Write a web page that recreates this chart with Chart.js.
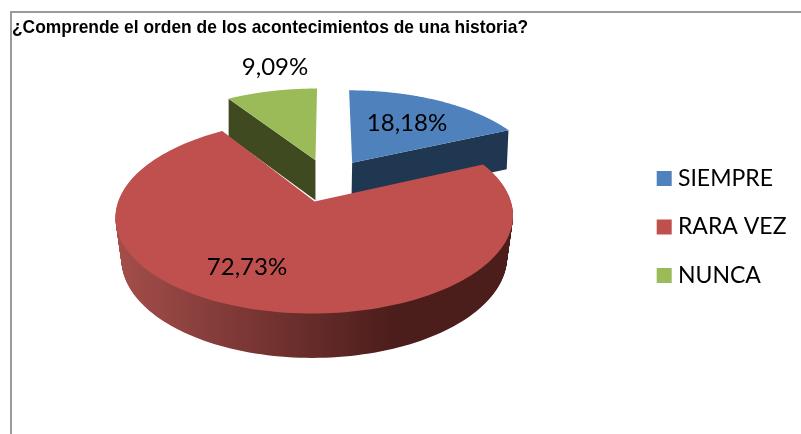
<!DOCTYPE html>
<html><head><meta charset="utf-8">
<style>html,body{margin:0;padding:0;background:#fff}#w{position:absolute;left:0;top:0;width:801px;height:434px}</style>
<script src="https://cdn.jsdelivr.net/npm/chart.js@4"></script></head>
<body><div id="w"><canvas id="c" width="801" height="434"></canvas></div>
<script>
const titleText = '¿Comprende el orden de los acontecimientos de una historia?';
const categories = ['SIEMPRE', 'RARA VEZ', 'NUNCA'];
const percentages = [18.18, 72.73, 9.09];
const topColors = ['#4F81BD', '#C0504D', '#9BBB59'];
const sideColors = ['#203752', null, '#3F4A20'];
const labelCenters = [[407, 123], [247, 267], [275, 67]];

const view = {x0: 328, y0: 180.2, A: 189.5, B: 88.1, p: 0.15, explode: 0.243};
function project(X, Y) {
  const w = 1 + view.p * Y;
  return [view.x0 + view.A * X / w, view.y0 - view.B * Y / w];
}
function lower(pt, t) {
  const depth = 35 + 0.03 * pt[1];
  const shrink = Math.max(0, Math.min(0.03, (pt[1] - 100) * 0.0003));
  return [pt[0] + (315 - pt[0]) * shrink * t, pt[1] + depth * t];
}
function outline(el) {
  const mid = (el.startAngle + el.endAngle) / 2;
  const ox = Math.cos(mid) * view.explode, oy = -Math.sin(mid) * view.explode;
  const pts = [project(ox, oy)];
  const n = 160;
  for (let i = 0; i <= n; i++) {
    const a = el.startAngle + (el.endAngle - el.startAngle) * i / n;
    pts.push(project(ox + Math.cos(a), oy - Math.sin(a)));
  }
  return pts;
}
function fillPts(ctx, pts) {
  ctx.beginPath();
  pts.forEach((p, i) => i ? ctx.lineTo(p[0], p[1]) : ctx.moveTo(p[0], p[1]));
  ctx.closePath();
  ctx.fill();
}
// The edge of each exploded wedge that faces the viewer.
function cutFace(pts, i) {
  const a = pts[0];
  const b = i === 0 ? pts[pts.length - 1] : pts[1];
  return [a, b, lower(b, 1), lower(a, 1)];
}
const pie3d = {
  id: 'pie3d',
  afterLayout(chart) {
    chart.legend.top += 2;
    chart.legend.bottom += 2;
    const block = chart.titleBlock;
    if (block.__narrow) return;
    const base = block.draw;
    block.draw = function () {
      const ctx = chart.ctx;
      ctx.save();
      ctx.font = 'bold 19px "Liberation Sans"';
      const sx = 516 / ctx.measureText(titleText).width;
      ctx.restore();
      ctx.save();
      ctx.translate(12, 0);
      ctx.scale(sx, 1);
      ctx.translate(-12, 0);
      base.call(block);
      ctx.restore();
    };
    block.__narrow = true;
  },
  beforeDraw(chart) {
    const ctx = chart.ctx;
    ctx.save();
    ctx.strokeStyle = '#9a9a9a';
    ctx.lineWidth = 2;
    ctx.beginPath();
    ctx.moveTo(11, 434); ctx.lineTo(11, 12); ctx.lineTo(801, 12);
    ctx.stroke();
    ctx.restore();
  },
  beforeDatasetsDraw(chart) {
    const ctx = chart.ctx;
    const els = chart.getDatasetMeta(0).data;
    ctx.save();
    const grad = ctx.createLinearGradient(116, 0, 395, 0);
    grad.addColorStop(0, '#A54E4B');
    grad.addColorStop(1, '#4B1D1B');
    const paintOrder = [2, 0, 1];
    paintOrder.forEach(i => {
      const pts = outline(els[i]);
      if (sideColors[i]) {
        ctx.fillStyle = sideColors[i];
        fillPts(ctx, cutFace(pts, i));
      } else {
        ctx.fillStyle = grad;
        for (let s = 60; s > 0; s--) {
          fillPts(ctx, pts.map(p => lower(p, s / 60)));
        }
      }
    });
    paintOrder.forEach(i => {
      ctx.fillStyle = topColors[i];
      fillPts(ctx, outline(els[i]));
    });
    ctx.restore();
    return false;
  },
  afterDraw(chart) {
    const ctx = chart.ctx;
    ctx.save();
    ctx.fillStyle = '#000';
    ctx.font = '24px Lato';
    ctx.textAlign = 'center';
    ctx.textBaseline = 'middle';
    percentages.forEach((v, i) => {
      ctx.fillText(v.toFixed(2).replace('.', ',') + '%', labelCenters[i][0], labelCenters[i][1]);
    });
    ctx.restore();
  }
};
new Chart(document.getElementById('c'), {
  type: 'pie',
  data: {labels: categories, datasets: [{data: percentages, backgroundColor: topColors, borderWidth: 0}]},
  plugins: [pie3d],
  options: {
    responsive: false,
    animation: false,
    layout: {padding: {left: 12, top: 16, right: 4.5, bottom: 0}},
    plugins: {
      tooltip: {enabled: false},
      title: {display: true, text: titleText, align: 'start', color: '#000',
        font: {family: '"Liberation Sans"', weight: 'bold', size: 19}, padding: {top: 0, bottom: 7}},
      legend: {
        position: 'right',
        labels: {
          color: '#000', font: {family: 'Lato', size: 23}, boxWidth: 4.5, boxHeight: 4.5, padding: 25.5,
          generateLabels(chart) {
            return Chart.overrides.pie.plugins.legend.labels.generateLabels(chart)
              .map(l => ({...l, strokeStyle: l.fillStyle, lineWidth: 10.5}));
          }
        }
      }
    }
  }
});
</script></body></html>
